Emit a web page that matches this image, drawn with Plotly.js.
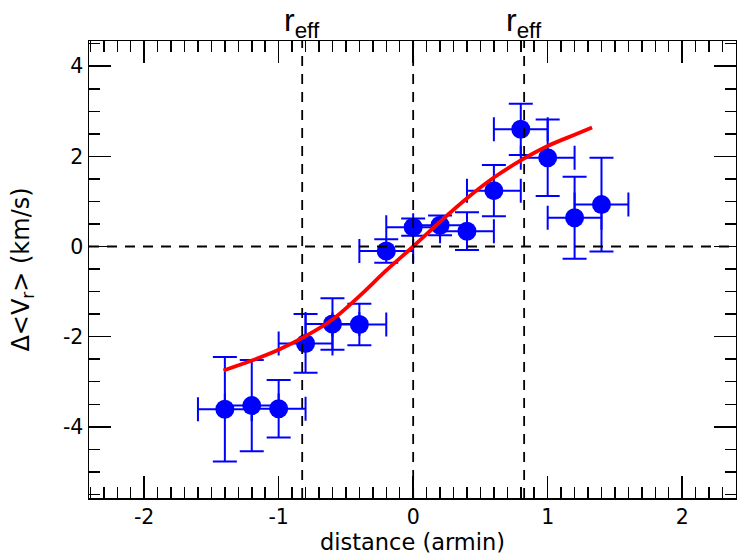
<!DOCTYPE html>
<html>
<head>
<meta charset="utf-8">
<script src="https://cdn.plot.ly/plotly-3.0.1.min.js"></script>
<style>html,body{margin:0;padding:0;background:#fff;}#chart{width:737px;height:559px;}</style>
</head>
<body>
<div id="chart"></div>
<script>
// Data points (distance in arcmin, delta <Vr> in km/s)
const distance = [-1.4, -1.2, -1.0, -0.8, -0.6, -0.4, -0.2, 0.0, 0.2, 0.4, 0.6, 0.8, 1.0, 1.2, 1.4];
const deltaV   = [-3.61, -3.53, -3.60, -2.15, -1.72, -1.73, -0.10, 0.43, 0.47, 0.34, 1.24, 2.60, 1.97, 0.64, 0.93];
const errV     = [1.16, 1.01, 0.64, 0.65, 0.57, 0.46, 0.26, 0.19, 0.22, 0.42, 0.57, 0.57, 0.85, 0.91, 1.04];
const errX     = [0.2, 0.2, 0.2, 0.2, 0.2, 0.2, 0.2, 0.2, 0.2, 0.2, 0.2, 0.2, 0.2, 0.2, 0.2];

// Fitted rotation curve
const fitX = [-1.41, -1.2, -1.0, -0.8, -0.6, -0.4, -0.2, 0.0, 0.2, 0.4, 0.6, 0.8, 1.0, 1.2, 1.33];
const fitY = [-2.75, -2.53, -2.29, -1.99, -1.62, -1.10, -0.53, 0.0, 0.55, 1.07, 1.53, 1.91, 2.23, 2.48, 2.64];

// Reference lines
const rEff = [-0.825, 0.825];
const xRange = [-2.41, 2.40];
const yRange = [-5.58, 4.56];
const xTicks = [-2, -1, 0, 1, 2];
const yTicks = [-4, -2, 0, 2, 4];

const FONT = 'DejaVu Sans, Verdana, sans-serif';

const traces = [
  {
    x: distance, y: deltaV, type: 'scatter', mode: 'markers',
    marker: {color: '#0000ff', size: 19},
    error_y: {type: 'data', array: errV, visible: true, color: '#0000ff', thickness: 2, width: 12},
    error_x: {type: 'data', array: errX, visible: true, color: '#0000ff', thickness: 2, width: 12},
    hoverinfo: 'skip'
  },
  {
    x: fitX, y: fitY, type: 'scatter', mode: 'lines',
    line: {color: '#ff0000', width: 3.8, shape: 'spline', smoothing: 1},
    hoverinfo: 'skip'
  }
];

const dashStyle = {color: '#000', width: 1.8, dash: '10px,8px'};
const shapes = [
  {type: 'line', xref: 'x', yref: 'paper', x0: 0, x1: 0, y0: 0, y1: 1, line: dashStyle, layer: 'above'},
  {type: 'line', xref: 'paper', yref: 'y', x0: 0, x1: 1, y0: 0, y1: 0, line: dashStyle, layer: 'above'}
];
rEff.forEach(r => shapes.push({type: 'line', xref: 'x', yref: 'paper', x0: r, x1: r, y0: 0, y1: 1, line: dashStyle, layer: 'above'}));

const annotations = rEff.map(r => ({
  x: r, xref: 'x', y: 1, yref: 'paper', yanchor: 'bottom', xanchor: 'center',
  text: 'r<sub>eff</sub>', showarrow: false, yshift: -4,
  font: {family: 'Liberation Sans, Arial, sans-serif', size: 32, color: '#000'}
}));

const axisCommon = {
  showgrid: false, zeroline: false, showline: true, linecolor: '#000', linewidth: 1.5,
  mirror: 'allticks', ticks: 'inside', ticklen: 22, tickwidth: 1.5, tickcolor: '#000',
  tickfont: {family: FONT, size: 20.5, color: '#000'}
};

const layout = {
  width: 737, height: 559,
  margin: {l: 89, r: 1, t: 41, b: 61},
  paper_bgcolor: '#fff', plot_bgcolor: '#fff',
  showlegend: false,
  xaxis: Object.assign({}, axisCommon, {
    range: xRange, tickvals: xTicks, ticktext: xTicks.map(String),
    minor: {dtick: 0.1, ticks: 'inside', ticklen: 11, tickwidth: 1.5, tickcolor: '#000', showgrid: false},
    title: {text: 'distance (armin)', standoff: 0, font: {family: FONT, size: 22.5, color: '#000'}}
  }),
  yaxis: Object.assign({}, axisCommon, {
    range: yRange, tickvals: yTicks, ticktext: yTicks.map(String),
    minor: {dtick: 0.5, ticks: 'inside', ticklen: 11, tickwidth: 1.5, tickcolor: '#000', showgrid: false},
    title: {text: 'Δ&lt;V<sub>r</sub>&gt; (km/s)', standoff: 26, font: {family: FONT, size: 24, color: '#000'}}
  }),
  shapes: shapes,
  annotations: annotations
};

Plotly.newPlot('chart', traces, layout, {staticPlot: true, displayModeBar: false});
</script>
</body>
</html>
